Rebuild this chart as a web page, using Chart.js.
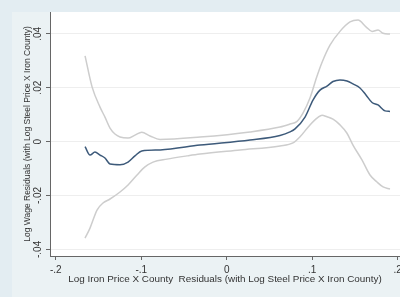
<!DOCTYPE html>
<html>
<head>
<meta charset="utf-8">
<script src="https://cdn.jsdelivr.net/npm/chart.js@4/dist/chart.umd.min.js"></script>
<style>
  html, body { margin: 0; padding: 0; background: #e3edf2; overflow: hidden; }
  #wrap { width: 400px; height: 297px; }
</style>
</head>
<body>
<div id="wrap"><canvas id="chart" width="400" height="297"></canvas></div>
<script>
// fitted line
const fitX = [-0.1657, -0.1599, -0.1541, -0.1482, -0.1424, -0.1365, -0.1248, -0.1154, -0.1073, -0.0994, -0.0778, -0.0312, 0.0273, 0.0623, 0.0740, 0.0799, 0.0916, 0.1009, 0.1091, 0.1173, 0.1243, 0.1325, 0.1407, 0.1477, 0.1559, 0.1629, 0.1700, 0.1770, 0.1852, 0.1910];
const fitY = [-0.0019, -0.0050, -0.0039, -0.0050, -0.0061, -0.0083, -0.0086, -0.0076, -0.0053, -0.0035, -0.0031, -0.0013, 0.0006, 0.0023, 0.0036, 0.0047, 0.0091, 0.0154, 0.0191, 0.0206, 0.0223, 0.0229, 0.0225, 0.0214, 0.0199, 0.0173, 0.0145, 0.0136, 0.0114, 0.0112];

// upper confidence band
const upperX = [-0.1657, -0.1575, -0.1482, -0.1424, -0.1365, -0.1307, -0.1248, -0.1154, -0.1073, -0.0994, -0.0897, -0.0780, -0.0312, 0.0273, 0.0623, 0.0740, 0.0819, 0.0892, 0.0974, 0.1053, 0.1111, 0.1208, 0.1325, 0.1442, 0.1536, 0.1629, 0.1700, 0.1770, 0.1829, 0.1910];
const upperY = [0.0318, 0.0203, 0.0128, 0.0091, 0.0050, 0.0028, 0.0017, 0.0013, 0.0024, 0.0035, 0.0021, 0.0008, 0.0017, 0.0036, 0.0054, 0.0065, 0.0074, 0.0106, 0.0162, 0.0240, 0.0291, 0.0358, 0.0409, 0.0444, 0.0451, 0.0426, 0.0409, 0.0414, 0.0402, 0.0399];

// lower confidence band
const lowerX = [-0.1657, -0.1599, -0.1517, -0.1447, -0.1365, -0.1248, -0.1154, -0.1049, -0.0956, -0.0862, -0.0699, -0.0465, -0.0312, 0.0156, 0.0623, 0.0775, 0.0858, 0.0974, 0.1068, 0.1115, 0.1173, 0.1243, 0.1325, 0.1407, 0.1477, 0.1582, 0.1676, 0.1758, 0.1829, 0.1910];
const lowerY = [-0.0358, -0.0321, -0.0254, -0.0228, -0.0213, -0.0187, -0.0161, -0.0124, -0.0094, -0.0076, -0.0065, -0.0053, -0.0046, -0.0031, -0.0016, -0.0005, 0.0018, 0.0062, 0.0090, 0.0098, 0.0092, 0.0083, 0.0062, 0.0031, -0.0013, -0.0068, -0.0124, -0.0150, -0.0168, -0.0176];

const xTicks = [-0.2, -0.1, 0, 0.1, 0.2];
const xTickLabels = ["-.2", "-.1", "0", ".1", ".2"];
const yTicks = [-0.04, -0.02, 0, 0.02, 0.04];
const yTickLabels = ["-.04", "-.02", "0", ".02", ".04"];

const font = "'Liberation Sans', Arial, sans-serif";
const toPoints = (xs, ys) => xs.map((x, i) => ({ x: x, y: ys[i] }));

// stata-like backgrounds
const backdrop = {
  id: "backdrop",
  beforeDraw(chart) {
    const { ctx, chartArea: a } = chart;
    ctx.save();
    ctx.fillStyle = "#e3edf2";
    ctx.fillRect(0, 0, chart.width, chart.height);
    ctx.fillStyle = "#ebf2f4";
    ctx.fillRect(12, 12, chart.width - 12, chart.height - 12);
    ctx.fillStyle = "#ffffff";
    ctx.fillRect(a.left, a.top, a.right - a.left, a.bottom - a.top);
    ctx.restore();
  },
};

function line(data, color) {
  return {
    data: data,
    borderColor: color,
    borderWidth: 1.5,
    pointRadius: 0,
    cubicInterpolationMode: "monotone",
    fill: false,
  };
}

new Chart(document.getElementById("chart"), {
  type: "line",
  data: {
    datasets: [
      line(toPoints(fitX, fitY), "#3d5a7a"),
      line(toPoints(upperX, upperY), "#cdcdcd"),
      line(toPoints(lowerX, lowerY), "#cdcdcd"),
    ],
  },
  options: {
    responsive: false,
    animation: false,
    layout: { padding: { left: 12, top: 12, right: 0, bottom: 0 } },
    plugins: { legend: { display: false }, tooltip: { enabled: false } },
    scales: {
      x: {
        type: "linear",
        min: -0.2067,
        max: 0.2027,
        afterBuildTicks: (s) => { s.ticks = xTicks.map((v) => ({ value: v })); },
        afterFit: (s) => { s.height = 41; s.paddingLeft = 0; s.paddingRight = 0; },
        grid: { drawOnChartArea: false, tickLength: 4, tickColor: "#666" },
        border: { color: "#666" },
        ticks: {
          autoSkip: false, maxRotation: 0, padding: 4.5, color: "#333",
          font: { family: font, size: 10 },
          callback: (v, i) => xTickLabels[i],
        },
        title: {
          display: true,
          text: "Log Iron Price X County  Residuals (with Log Steel Price X Iron County)",
          color: "#333",
          font: { family: font, size: 9.9 },
          padding: { top: 0, bottom: 12 },
        },
      },
      y: {
        min: -0.04245,
        max: 0.04809,
        afterBuildTicks: (s) => { s.ticks = yTicks.map((v) => ({ value: v })); },
        afterFit: (s) => { s.width = 38; s.paddingTop = 0; s.paddingBottom = 0; },
        grid: { color: "#eeeeee", tickLength: 4, tickColor: "#666" },
        border: { color: "#666" },
        ticks: {
          minRotation: 90, maxRotation: 90, crossAlign: "center", padding: -1,
          color: "#333",
          font: { family: font, size: 10 },
          callback: (v, i) => yTickLabels[i],
        },
        title: {
          display: true,
          text: "Log Wage Residuals (with Log Steel Price X Iron County)",
          color: "#333",
          font: { family: font, size: 8.5 },
          padding: { top: 11, bottom: 0 },
        },
      },
    },
  },
  plugins: [backdrop],
});
</script>
</body>
</html>
